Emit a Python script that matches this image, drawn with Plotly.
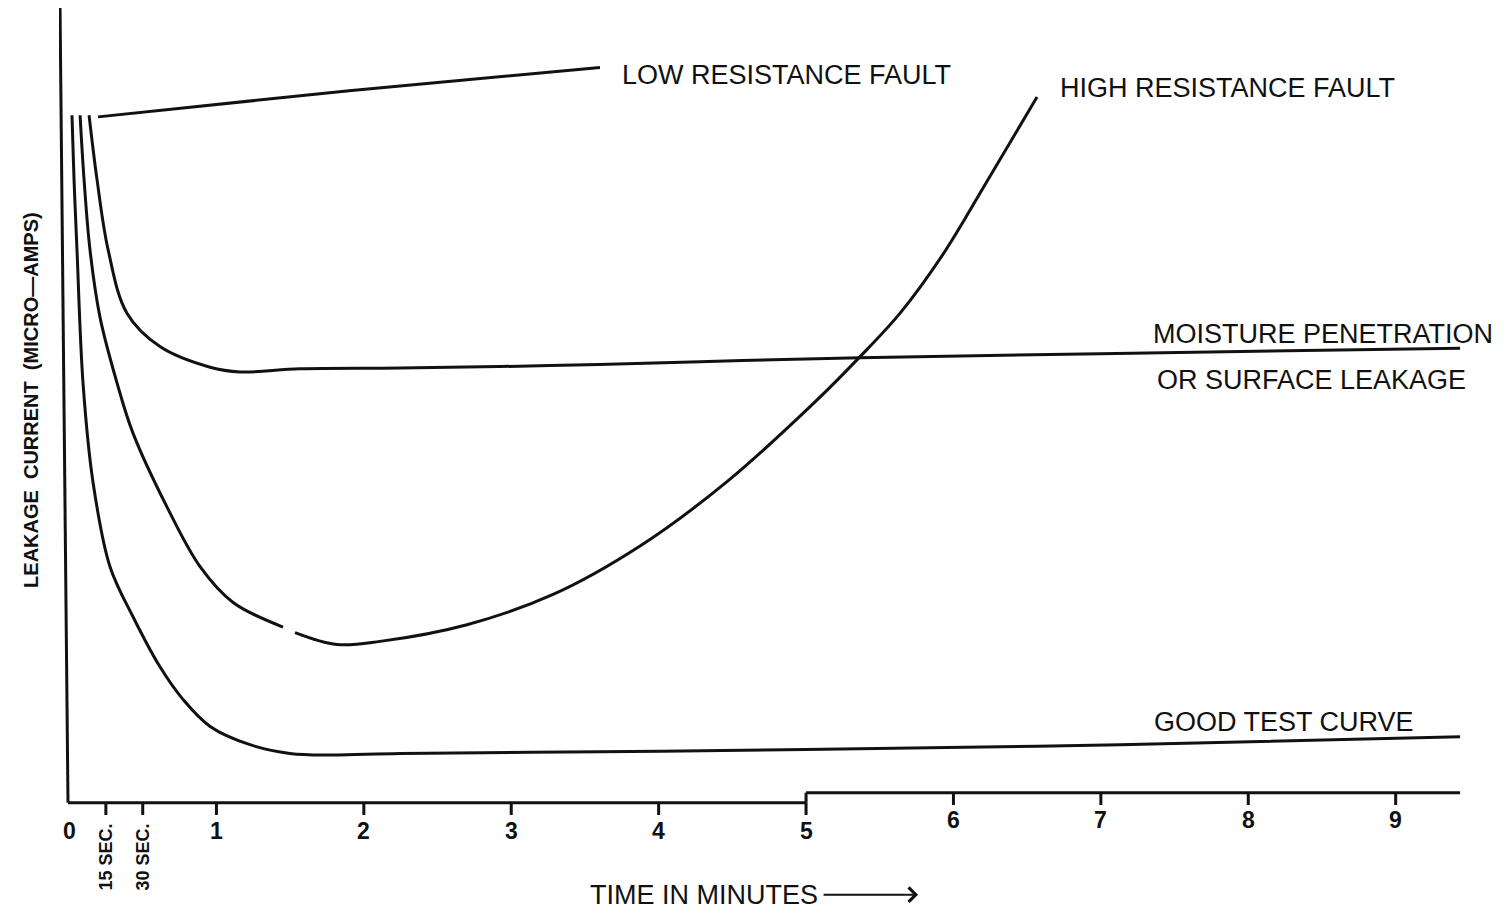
import plotly.graph_objects as go

# ---------------- data (time in minutes, current in relative units 0-100) ----------------
good_x = [0.020, 0.034, 0.054, 0.095, 0.163, 0.278, 0.434, 0.617, 0.773, 0.957, 1.228, 1.499,
          1.771, 2.246, 3.602, 5.000, 7.130, 9.437]
good_y = [86.5, 78.4, 69.6, 52.8, 40.3, 29.7, 23.4, 17.1, 13.0, 9.6, 7.3, 6.2,
          6.0, 6.2, 6.4, 6.7, 7.3, 8.3]

high_x = [0.075, 0.102, 0.142, 0.210, 0.326, 0.434, 0.665, 0.889, 1.113, 1.452, None,
          1.533, 1.818, 2.110, 2.700, 3.284, 3.874, 4.464, 5.054, 5.360, 5.638, 5.936, 6.228, 6.567]
high_y = [86.5, 78.4, 69.6, 61.1, 52.8, 46.5, 37.2, 29.7, 25.2, 22.1, None,
          21.4, 19.9, 20.3, 22.4, 26.2, 32.3, 40.4, 50.3, 56.0, 61.6, 69.2, 78.2, 88.8]

moist_x = [0.136, 0.190, 0.265, 0.393, 0.617, 0.957, 1.160, 1.567, 2.246, 3.263, 4.281,
           5.366, 6.995, 9.437]
moist_y = [86.5, 78.4, 69.6, 61.6, 57.4, 54.8, 54.2, 54.6, 54.7, 55.0, 55.5,
           56.0, 56.5, 57.2]

low_x = [0.197, 1.90, 3.602]
low_y = [86.3, 89.6, 92.5]

tick_vals = [0.25, 0.5, 1, 2, 3, 4, 5, 6, 7, 8, 9]
digit_vals = [0, 1, 2, 3, 4, 5, 6, 7, 8, 9]
digit_text = ["0", "1", "2", "3", "4", "5", "6", "7", "8", "9"]
sec_vals = [0.25, 0.5]
sec_text = ["15 SEC.", "30 SEC."]

axis_step_at = 5.0      # minute where the baseline steps up
axis_step_height = 1.26  # height of the step
x_end = 9.437
y_top = 100

curve_labels = [
    ("LOW RESISTANCE FAULT", 3.738, 91.6),
    ("HIGH RESISTANCE FAULT", 6.710, 89.9),
    ("MOISTURE PENETRATION", 7.341, 59.0),
    ("OR SURFACE LEAKAGE", 7.368, 53.2),
    ("GOOD TEST CURVE", 7.347, 10.2),
]

# ---------------- figure ----------------
INK = "#111111"
LW = 3
fig = go.Figure()

for xs, ys, name in [(good_x, good_y, "Good test curve"),
                     (high_x, high_y, "High resistance fault"),
                     (moist_x, moist_y, "Moisture penetration"),
                     (low_x, low_y, "Low resistance fault")]:
    fig.add_trace(go.Scatter(x=xs, y=ys, mode="lines", name=name,
                             line=dict(color=INK, width=LW, shape="spline", smoothing=1.0),
                             connectgaps=False, showlegend=False, hoverinfo="skip"))

def base(v):
    return axis_step_height if v > axis_step_at else 0.0

shapes = []
# left (vertical) axis, slightly tilted as in the scan
shapes.append(dict(type="line", xref="x", yref="y", x0=-0.061, y0=y_top, x1=-0.007, y1=0,
                   line=dict(color=INK, width=LW)))
# baseline with step
shapes.append(dict(type="line", xref="x", yref="y", x0=-0.007, y0=0, x1=axis_step_at, y1=0,
                   line=dict(color=INK, width=LW)))
shapes.append(dict(type="line", xref="x", yref="y", x0=axis_step_at, y0=0, x1=axis_step_at,
                   y1=axis_step_height, line=dict(color=INK, width=LW)))
shapes.append(dict(type="line", xref="x", yref="y", x0=axis_step_at, y0=axis_step_height,
                   x1=x_end, y1=axis_step_height, line=dict(color=INK, width=LW)))
# tick marks
for t in tick_vals:
    b = base(t)
    shapes.append(dict(type="line", xref="x", yref="y", x0=t, y0=b, x1=t, y1=b - 1.55,
                       line=dict(color=INK, width=LW)))

annotations = []
for v, txt in zip(digit_vals, digit_text):
    annotations.append(dict(x=v, y=base(v) - 3.5, xref="x", yref="y", text="<b>%s</b>" % txt,
                            showarrow=False, xanchor="center", yanchor="middle",
                            font=dict(family="Liberation Sans, Arial", size=23, color=INK)))
for v, txt in zip(sec_vals, sec_text):
    annotations.append(dict(x=v, y=-6.8, xref="x", yref="y", text="<b>%s</b>" % txt,
                            showarrow=False, textangle=-90, xanchor="center", yanchor="middle",
                            font=dict(family="Liberation Sans, Arial", size=18, color=INK)))

for txt, lx, ly in curve_labels:
    annotations.append(dict(x=lx, y=ly, xref="x", yref="y", text=txt, showarrow=False,
                            xanchor="left", yanchor="middle",
                            font=dict(family="Liberation Sans, Arial", size=27, color=INK)))

# axis titles
annotations.append(dict(x=3.521, y=-11.57, xref="x", yref="y", text="TIME IN MINUTES",
                        showarrow=False, xanchor="left", yanchor="middle",
                        font=dict(family="Liberation Sans, Arial", size=27, color=INK)))
annotations.append(dict(x=5.76, y=-11.57, xref="x", yref="y", text="", showarrow=True,
                        ax=-96, ay=0, arrowhead=4, arrowsize=1.4, arrowwidth=2,
                        arrowcolor=INK, standoff=0, startstandoff=0))
annotations.append(dict(x=-0.0200, y=0.5635, xref="paper", yref="paper",
                        text="<b>LEAKAGE\u00a0\u00a0CURRENT\u00a0\u00a0(MICRO\u2014AMPS)</b>",
                        showarrow=False, textangle=-90, xanchor="center", yanchor="middle",
                        font=dict(family="Liberation Sans, Arial", size=20, color=INK)))

# the page adds an 8px body margin, so the figure is 8px smaller than the window
fig.update_layout(
    width=1501, height=903,
    margin=dict(l=51, r=47, t=0, b=5),
    paper_bgcolor="white", plot_bgcolor="white",
    xaxis=dict(range=[-0.068, 9.45], visible=False, fixedrange=True),
    yaxis=dict(range=[-13, 100], visible=False, fixedrange=True),
    shapes=shapes, annotations=annotations, showlegend=False,
)

fig.write_html("out.html")
